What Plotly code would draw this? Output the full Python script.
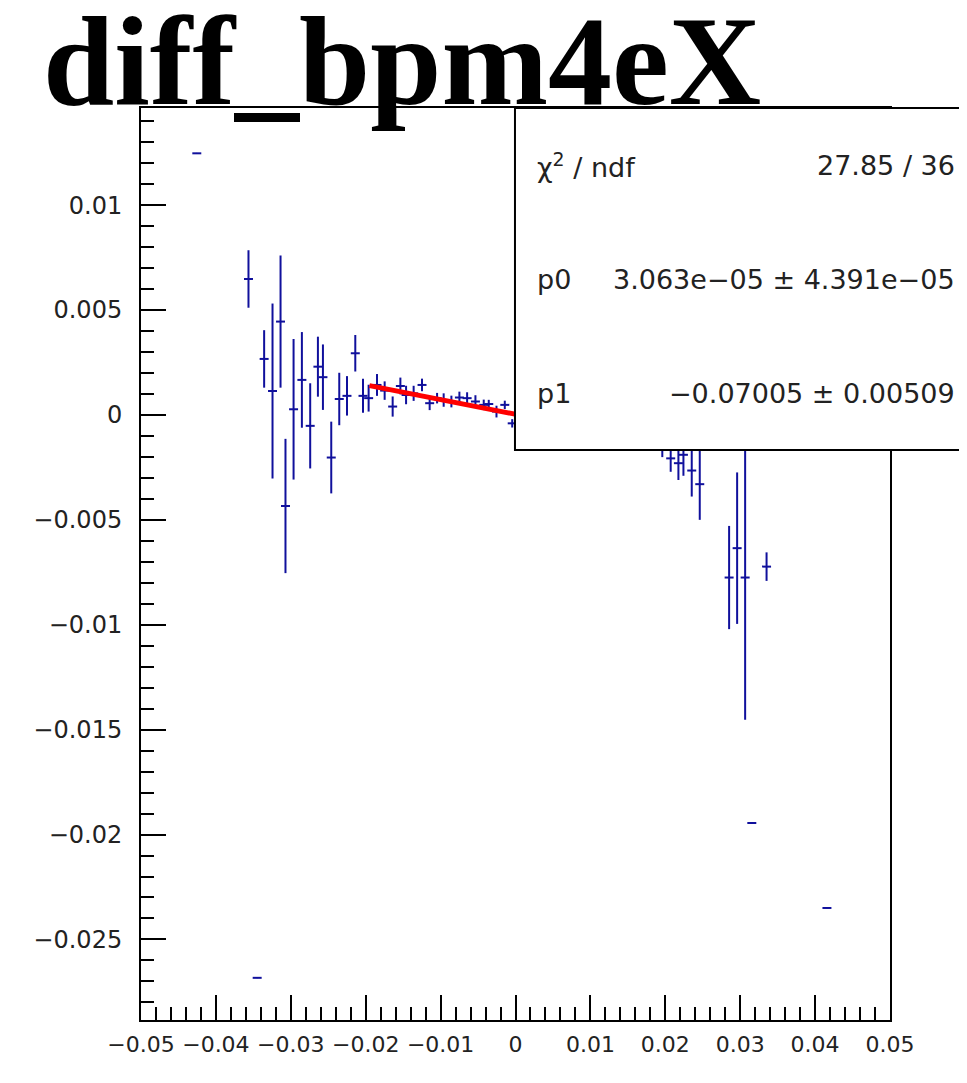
import plotly.graph_objects as go

# profile points: x, y, y error
x_vals = [-0.04255, -0.03449, -0.03565, -0.03356, -0.03244, -0.03137, -0.03071, -0.02963,
          -0.02852, -0.02741, -0.02638, -0.02571, -0.0246, -0.02353, -0.0225, -0.02139,
          -0.02036, -0.01961, -0.01849, -0.01747, -0.0164, -0.01537, -0.01461, -0.0136,
          -0.01248, -0.01146, -0.01047, -0.00959, -0.00856, -0.00749, -0.00646, -0.00535,
          -0.00424, -0.00357, -0.00254, -0.00143, -0.00044,
          0.0196, 0.02072, 0.02175, 0.02242, 0.02353, 0.0246, 0.02852, 0.02959,
          0.03066, 0.03352, 0.03155, 0.04158]
y_vals = [0.01247, -0.02683, 0.00648, 0.00267, 0.00114, 0.00445, -0.00434, 0.00027,
          0.00167, -0.00052, 0.0023, 0.0018, -0.00203, 0.00076, 0.00091, 0.00294,
          0.00091, 0.0008, 0.00143, 0.00116, 0.0004, 0.00138, 0.00095, 0.00103,
          0.00143, 0.00056, 0.0008, 0.00071, 0.00064, 0.00083, 0.0008, 0.00064,
          0.00048, 0.00052, 0.00016, 0.00048, -0.0004,
          -0.0015, -0.00207, -0.0023, -0.0019, -0.00265, -0.0033, -0.00775, -0.00635,
          -0.00775, -0.00723, -0.01945, -0.0235]
y_errs = [0, 0, 0.00137, 0.00137, 0.00417, 0.00315, 0.0032, 0.00335,
          0.00228, 0.00203, 0.00143, 0.00156, 0.00171, 0.00125, 0.00094, 0.00087,
          0.00081, 0.00064, 0.00052, 0.00044, 0.00048, 0.0004, 0.00044, 0.00036,
          0.0003, 0.00033, 0.00025, 0.00032, 0.00028, 0.00028, 0.00028, 0.0003,
          0.00025, 0.0002, 0.00028, 0.0002, 0.0002,
          0.00051, 0.00064, 0.0008, 0.001, 0.00124, 0.0017, 0.00246, 0.00361,
          0.00678, 0.00068, 0, 0]
x_err = 0.0006

# fit result (pol1)
p0 = 3.063e-05
p1 = -0.07005
fit_range = [-0.0195, 0.02]

stat_labels = ['χ<sup>2</sup> / ndf', 'p0', 'p1']
stat_values = ['27.85 / 36', '3.063e−05 ± 4.391e−05', '−0.07005 ± 0.00509']

x_ticks = [-0.05, -0.04, -0.03, -0.02, -0.01, 0, 0.01, 0.02, 0.03, 0.04, 0.05]
x_ticktext = ['−0.05', '−0.04', '−0.03', '−0.02', '−0.01', '0', '0.01', '0.02', '0.03', '0.04', '0.05']
y_ticks = [-0.025, -0.02, -0.015, -0.01, -0.005, 0, 0.005, 0.01]
y_ticktext = ['−0.025', '−0.02', '−0.015', '−0.01', '−0.005', '0', '0.005', '0.01']

blue = '#10109c'

fig = go.Figure()

fig.add_trace(go.Scatter(
    x=x_vals, y=y_vals, mode='markers',
    marker=dict(size=1, color=blue),
    error_x=dict(type='constant', value=x_err, width=0, thickness=2, color=blue),
    error_y=dict(type='data', array=y_errs, width=0, thickness=2, color=blue),
    showlegend=False, hoverinfo='skip'
))

fig.add_trace(go.Scatter(
    x=fit_range, y=[p0 + p1 * v for v in fit_range], mode='lines',
    line=dict(color='#ff0000', width=5),
    showlegend=False, hoverinfo='skip'
))

axis_common = dict(
    showgrid=False, zeroline=False, showline=True, linecolor='black', linewidth=2,
    mirror=True, ticks='inside', ticklen=25, tickwidth=1.5, tickcolor='black',
    tickmode='array', tickangle=0,
)

fig.update_xaxes(axis_common, range=[-0.05, 0.05], tickvals=x_ticks, ticktext=x_ticktext,
                 ticklabelstandoff=4,
                 tickfont=dict(family='DejaVu Sans', size=22, color='#222222'),
                 minor=dict(dtick=0.002, tick0=0, ticks='inside', ticklen=13,
                            tickwidth=1.5, tickcolor='black'))
fig.update_yaxes(axis_common, range=[-0.02884, 0.01463], tickvals=y_ticks, ticktext=y_ticktext,
                 ticklabelstandoff=12,
                 tickfont=dict(family='DejaVu Sans', size=24, color='#222222'),
                 minor=dict(dtick=0.001, tick0=0, ticks='inside', ticklen=13,
                            tickwidth=1.5, tickcolor='black'))

# stats box
fig.add_shape(type='rect', xref='paper', yref='paper', x0=0.4993, x1=1.2, y0=0.625, y1=1.0,
              fillcolor='white', line=dict(color='black', width=2), layer='above')

row_y = [0.937, 0.812, 0.687]
for lab, val, yy in zip(stat_labels, stat_values, row_y):
    fig.add_annotation(xref='paper', yref='paper', x=0.526, y=yy, text=lab, showarrow=False,
                       xanchor='left', yanchor='middle',
                       font=dict(family='DejaVu Sans', size=27, color='#222222'))
    fig.add_annotation(xref='paper', yref='paper', x=1.0895, y=yy, text=val, showarrow=False,
                       xanchor='right', yanchor='middle',
                       font=dict(family='DejaVu Sans', size=27, color='#222222'))

# big title
fig.add_annotation(xref='paper', yref='paper', x=-0.1333, y=1.0, text='<b>diff_bpm4eX</b>',
                   showarrow=False, xanchor='left', yanchor='bottom', yshift=-26,
                   font=dict(family='Liberation Serif', size=128, color='black'))

# page body adds an 8px offset, margins compensate for it
fig.update_layout(
    width=967, height=1083,
    margin=dict(l=133, r=85, t=100, b=71),
    paper_bgcolor='white', plot_bgcolor='white',
)

fig.write_html('out.html')
